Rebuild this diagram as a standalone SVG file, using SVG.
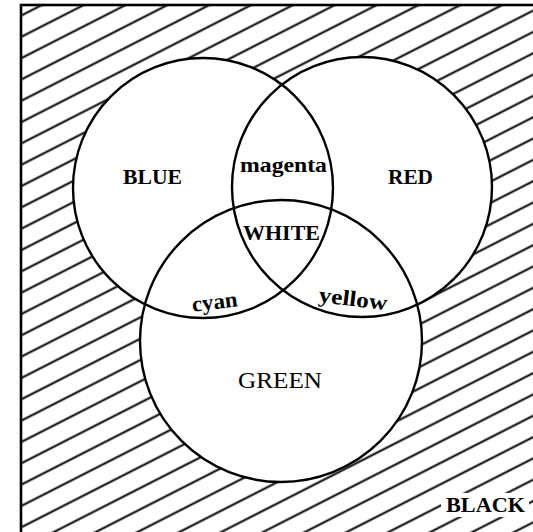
<svg xmlns="http://www.w3.org/2000/svg" width="533" height="532" viewBox="0 0 533 532">
  <defs>
    <pattern id="hatch" patternUnits="userSpaceOnUse" width="40" height="19" patternTransform="translate(21,5) rotate(-27)">
      <line x1="-2" y1="9.5" x2="42" y2="9.5" stroke="#000" stroke-width="2.2"/>
    </pattern>
    <style>
      .disc { fill: #fff; stroke: none; }
      .ring { fill: none; stroke: #000; stroke-width: 2.4; }
      .lbl { font-family: "Liberation Serif", "Times New Roman", serif; font-weight: bold; fill: #000; }
      .plain { font-weight: normal; }
    </style>
  </defs>
  <rect x="0" y="0" width="533" height="532" fill="#fff"/>
  <g id="frame">
    <rect x="21" y="5" width="530" height="540" fill="url(#hatch)" stroke="#000" stroke-width="2.6"/>
    <rect x="441" y="493" width="88" height="24" fill="#fff"/>
  </g>
  <g id="discs">
    <circle class="disc" cx="203" cy="188" r="130"/>
    <circle class="disc" cx="362" cy="187" r="130"/>
    <circle class="disc" cx="281" cy="341" r="141"/>
  </g>
  <g id="blue">
    <circle class="ring" cx="203" cy="188" r="130"/>
    <text class="lbl" x="123" y="184" font-size="21" textLength="59" lengthAdjust="spacingAndGlyphs">BLUE</text>
  </g>
  <g id="red">
    <circle class="ring" cx="362" cy="187" r="130"/>
    <text class="lbl" x="388" y="184" font-size="21" textLength="45" lengthAdjust="spacingAndGlyphs">RED</text>
  </g>
  <g id="green">
    <circle class="ring" cx="281" cy="341" r="141"/>
    <text class="lbl plain" x="238" y="388" font-size="24" textLength="84" lengthAdjust="spacingAndGlyphs">GREEN</text>
  </g>
  <g id="regions">
    <text class="lbl" x="240" y="172" font-size="21" textLength="87" lengthAdjust="spacingAndGlyphs">magenta</text>
    <text class="lbl" x="243" y="240" font-size="22" textLength="77" lengthAdjust="spacingAndGlyphs">WHITE</text>
    <text class="lbl" x="192" y="309" font-size="22" textLength="46" lengthAdjust="spacingAndGlyphs" transform="rotate(-7 215 305)">cyan</text>
    <text class="lbl" x="318" y="306" font-size="22" textLength="69" lengthAdjust="spacingAndGlyphs" transform="rotate(7 352 303)">yellow</text>
    <text class="lbl" x="446" y="512" font-size="22" textLength="79" lengthAdjust="spacingAndGlyphs">BLACK</text>
  </g>
</svg>
